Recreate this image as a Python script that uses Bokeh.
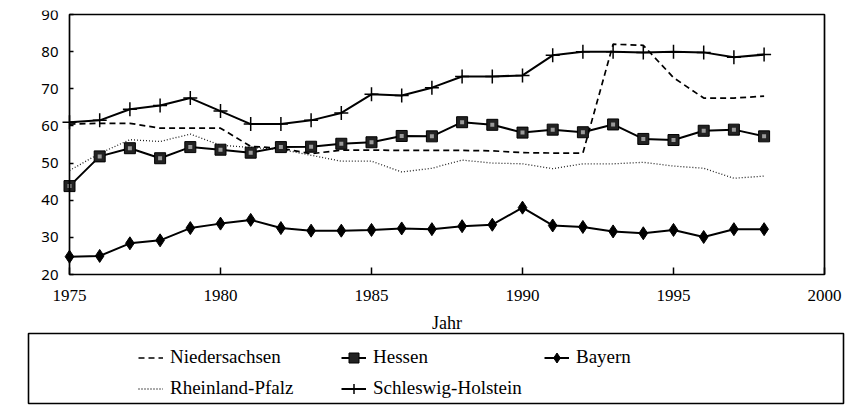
from bokeh.plotting import figure
from bokeh.models import (ColumnDataSource, Range1d, FixedTicker, Legend, LegendItem,
                          BoxAnnotation, LinearAxis)
from bokeh.embed import file_html
from bokeh.resources import INLINE

# ---------------- data ----------------
years = [1975, 1976, 1977, 1978, 1979, 1980, 1981, 1982, 1983, 1984, 1985, 1986,
         1987, 1988, 1989, 1990, 1991, 1992, 1993, 1994, 1995, 1996, 1997, 1998]
niedersachsen = [60.5, 60.7, 60.7, 59.4, 59.4, 59.4, 54.5, 54.0, 52.5, 53.5, 53.5, 53.4,
                 53.4, 53.4, 53.3, 52.8, 52.7, 52.7, 82.0, 81.7, 73.0, 67.5, 67.5, 68.0]
hessen = [43.8, 51.8, 54.0, 51.3, 54.3, 53.6, 52.8, 54.3, 54.4, 55.2, 55.6, 57.3,
          57.2, 61.0, 60.3, 58.2, 59.0, 58.3, 60.4, 56.5, 56.2, 58.7, 59.0, 57.2]
bayern = [24.8, 25.0, 28.4, 29.2, 32.5, 33.7, 34.7, 32.5, 31.8, 31.8, 32.0, 32.4,
          32.2, 33.0, 33.4, 38.0, 33.2, 32.8, 31.6, 31.1, 32.0, 30.1, 32.2, 32.2]
rheinland_pfalz = [48.0, 52.6, 56.3, 55.8, 57.8, 54.8, 54.2, 53.7, 52.1, 50.5, 50.5, 47.6,
                   48.6, 50.8, 50.0, 49.8, 48.5, 49.8, 49.8, 50.2, 49.2, 48.6, 45.9, 46.5]
schleswig_holstein = [61.0, 61.5, 64.5, 65.5, 67.5, 64.0, 60.5, 60.5, 61.5, 63.5, 68.5, 68.2,
                      70.3, 73.3, 73.3, 73.6, 79.0, 80.0, 80.0, 79.8, 80.0, 79.8, 78.5, 79.2]

x_ticks = [1975, 1980, 1985, 1990, 1995, 2000]
y_ticks = [20, 30, 40, 50, 60, 70, 80, 90]
x_title = "Jahr"
y_title = "Anteil inv.H."

src = ColumnDataSource(data=dict(year=years, nds=niedersachsen, he=hessen, by=bayern,
                                 rp=rheinland_pfalz, sh=schleswig_holstein))

SERIF = "Liberation Serif"

# ---------------- layout (pixels) ----------------
W, H = 847, 405
FRAME_L, FRAME_R, FRAME_T, FRAME_B = 25, 846, 10, 405      # drawing area
CHART_L, CHART_R, CHART_T, CHART_B = 69, 824, 14, 274      # data box of the chart
LEG_L, LEG_R, LEG_T, LEG_B = 28, 843, 333, 403             # legend frame

x0, x1 = x_ticks[0], x_ticks[-1]
y0, y1 = y_ticks[0], y_ticks[-1]
xs = (x1 - x0) / (CHART_R - CHART_L)
ys = (y1 - y0) / (CHART_B - CHART_T)
x_range = Range1d(x0 - (CHART_L - FRAME_L) * xs, x1 + (FRAME_R - CHART_R) * xs)
y_range = Range1d(y0 - (FRAME_B - CHART_B) * ys, y1 + (CHART_T - FRAME_T) * ys)

p = figure(width=W, height=H, x_range=x_range, y_range=y_range,
           x_axis_location=None, y_axis_location=None,
           output_backend="svg", toolbar_location=None,
           min_border_left=FRAME_L, min_border_right=W - FRAME_R,
           min_border_top=FRAME_T, min_border_bottom=H - FRAME_B)
p.outline_line_color = None
p.xgrid.visible = False
p.ygrid.visible = False

# axes fixed to the chart box
xaxis = LinearAxis(fixed_location=y0, bounds=(x0, x1), ticker=FixedTicker(ticks=x_ticks))
yaxis = LinearAxis(fixed_location=x0, bounds=(y0, y1), ticker=FixedTicker(ticks=y_ticks))
for ax in (xaxis, yaxis):
    ax.axis_line_color = None
    ax.major_tick_line_color = "black"
    ax.major_tick_line_width = 1.5
    ax.major_tick_out = 0
    ax.minor_tick_line_color = None
    ax.major_label_text_color = "black"
    ax.axis_label_text_color = "black"
    ax.axis_label_text_font = SERIF
    ax.axis_label_text_font_style = "normal"
xaxis.major_tick_in = 7
yaxis.major_tick_in = 4
xaxis.major_label_text_font = SERIF
xaxis.major_label_text_font_size = "17px"
xaxis.major_label_standoff = 15
xaxis.axis_label = x_title
xaxis.axis_label_text_font_size = "18px"
xaxis.axis_label_standoff = 9
yaxis.major_label_text_font = "Noto Sans"
yaxis.major_label_text_font_size = "15px"
yaxis.major_label_standoff = 11
yaxis.axis_label = y_title
yaxis.axis_label_text_font_size = "19px"
yaxis.axis_label_standoff = 18
p.add_layout(xaxis, "below")
p.add_layout(yaxis, "left")

# chart box
chart_box = BoxAnnotation(left=x0, right=x1, bottom=y0, top=y1,
                          fill_alpha=0, line_color="black", line_width=1.7, line_alpha=1.0)
p.add_layout(chart_box)

# series
r_rp = p.line("year", "rp", source=src, line_color="#222222", line_width=1.3, line_dash="1 2")
r_nds = p.line("year", "nds", source=src, line_color="black", line_width=1.7, line_dash="6 4")
r_by = p.line("year", "by", source=src, line_color="black", line_width=2)
m_by = p.scatter("year", "by", source=src, marker="diamond", size=13,
                 fill_color="black", line_color="black", line_width=1)
r_he = p.line("year", "he", source=src, line_color="black", line_width=2)
m_he = p.scatter("year", "he", source=src, marker="square", size=11,
                 fill_color="#222222", line_color="black", line_width=1)
d_he = p.scatter("year", "he", source=src, marker="square", size=4,
                 fill_color="#9a9a9a", line_color=None)
r_sh = p.line("year", "sh", source=src, line_color="black", line_width=2)
m_sh = p.scatter("year", "sh", source=src, marker="cross", size=14,
                 line_color="black", line_width=1.5)

# legend frame box (canvas pixels)
leg_box = BoxAnnotation(left=LEG_L, right=LEG_R, top=LEG_T, bottom=LEG_B,
                        left_units="canvas", right_units="canvas",
                        top_units="canvas", bottom_units="canvas",
                        fill_alpha=0, line_color="black", line_width=1.6, line_alpha=1.0)
p.add_layout(leg_box)

ROW1 = 357          # centre of first legend row (canvas y)
GLYPH_X = 138       # start of first legend glyph (canvas x)
GH, SP = 25, 6      # item height, spacing
legend = Legend(items=[
    LegendItem(label="Niedersachsen", renderers=[r_nds]),
    LegendItem(label="Hessen", renderers=[r_he, m_he]),
    LegendItem(label="Bayern", renderers=[r_by, m_by]),
    LegendItem(label="Rheinland-Pfalz", renderers=[r_rp]),
    LegendItem(label="Schleswig-Holstein", renderers=[r_sh, m_sh]),
], location=(GLYPH_X - FRAME_L, FRAME_B - (ROW1 - GH / 2 + 2 * GH + SP)),
    orientation="horizontal", ncols=3,
    glyph_width=25, glyph_height=GH, label_height=20, label_width=165,
    label_standoff=7, spacing=SP, padding=0, margin=0,
    border_line_color=None, background_fill_alpha=0,
    label_text_font=SERIF, label_text_font_size="19px", label_text_color="black")
p.add_layout(legend)

open("out.html", "w").write(file_html(p, INLINE))
